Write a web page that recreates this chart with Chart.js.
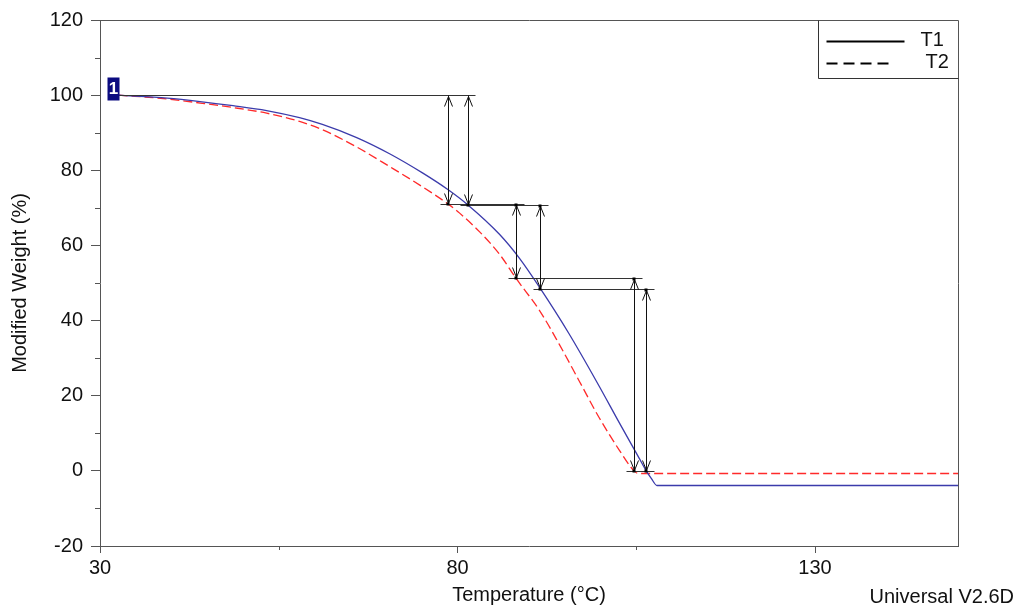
<!DOCTYPE html>
<html>
<head>
<meta charset="utf-8">
<title>Modified Weight vs Temperature</title>
<script src="https://cdn.jsdelivr.net/npm/chart.js@4.4.1/dist/chart.umd.min.js"></script>
<style>
  html, body { margin: 0; padding: 0; background: #ffffff; }
  #wrap { width: 1018px; height: 607px; position: relative; }
</style>
</head>
<body>
<div id="wrap"><canvas id="chart" width="1018" height="607"></canvas></div>
<script>
// Weight curves (temperature in °C, modified weight in %)
const tempT1   = [32.6, 39.4, 44.0, 48.6, 53.3, 57.9, 61.1, 65.9, 70.5, 75.1, 78.7, 81.5, 85.9, 88.7, 91.6, 95.6, 99.8, 102.6, 105.4, 106.4, 107.1, 107.9, 150.0];
const weightT1 = [100.0, 99.2, 98.3, 97.2, 95.9, 94.0, 92.2, 88.7, 84.4, 79.3, 74.8, 70.7, 62.9, 56.5, 48.5, 36.5, 22.6, 12.9, 3.4, 0.0, -2.0, -3.9, -3.9];

const tempT2   = [32.6, 39.4, 44.0, 48.6, 53.3, 57.9, 61.1, 65.9, 70.5, 75.1, 78.7, 80.3, 83.1, 85.9, 88.2, 91.5, 94.2, 97.0, 99.8, 102.6, 104.7, 105.3, 150.0];
const weightT2 = [100.0, 99.0, 97.9, 96.7, 95.2, 93.0, 90.8, 86.2, 81.0, 75.6, 71.0, 68.6, 63.6, 57.6, 51.2, 42.6, 33.8, 24.0, 14.2, 5.6, 0.0, -0.7, -0.7];

// Step analysis: arrow temperatures and the weight levels between them
const stepTempT1  = [81.5, 91.6, 106.4];
const stepLevelT1 = [100, 70.7, 48.5, 0];
const stepTempT2  = [78.7, 88.2, 104.7];
const stepLevelT2 = [100, 71.0, 51.2, 0];

// Axis ticks
const xMajorTicks = [30, 80, 130];
const xMinorTicks = [55, 105];
const yMajorStep = 20;
const seriesLabels = ['T1', 'T2'];
const markerLabel = '1';
const footerText = 'Universal V2.6D';

const FONT = "'Liberation Sans', Arial, sans-serif";
const AXIS_COLOR = '#555555';

function toXY(xs, ys) { return xs.map((x, i) => ({ x: x, y: ys[i] })); }

const stepsPlugin = {
  id: 'steps',
  afterDatasetsDraw(chart) {
    const ctx = chart.ctx;
    const xs = chart.scales.x, ys = chart.scales.y;
    const area = chart.chartArea;
    const px = v => Math.round(xs.getPixelForValue(v)) + 0.5;
    const py = v => Math.round(ys.getPixelForValue(v)) + 0.5;
    ctx.save();

    // plot frame (top and right edges)
    ctx.strokeStyle = AXIS_COLOR;
    ctx.lineWidth = 1;
    ctx.beginPath();
    ctx.moveTo(Math.round(area.left) + 0.5, Math.round(area.top) + 0.5);
    ctx.lineTo(Math.round(area.right) + 0.5, Math.round(area.top) + 0.5);
    ctx.lineTo(Math.round(area.right) + 0.5, Math.round(area.bottom) + 0.5);
    ctx.stroke();

    // minor ticks
    ctx.beginPath();
    xMinorTicks.forEach(v => {
      const x = px(v);
      ctx.moveTo(x, area.bottom);
      ctx.lineTo(x, area.bottom + 4);
    });
    for (let v = ys.min; v <= ys.max; v += 10) {
      if (v % yMajorStep !== 0) {
        const y = py(v);
        ctx.moveTo(area.left - 5, y);
        ctx.lineTo(area.left, y);
      }
    }
    ctx.stroke();

    // horizontal level lines
    ctx.strokeStyle = '#333333';
    ctx.lineWidth = 1;
    const hline = (t0, t1, lvl) => {
      ctx.beginPath();
      ctx.moveTo(px(t0), py(lvl));
      ctx.lineTo(px(t1), py(lvl));
      ctx.stroke();
    };
    hline(tempT1[0], stepTempT1[0] + 1.0, stepLevelT1[0]);
    [[stepTempT1, stepLevelT1], [stepTempT2, stepLevelT2]].forEach(([temps, levels]) => {
      for (let i = 1; i < levels.length; i++) {
        const t0 = temps[i - 1] - 1.1;
        const t1 = (i < temps.length ? temps[i] : temps[i - 1]) + 1.1;
        hline(t0, t1, levels[i]);
      }
    });

    // double-headed arrows
    ctx.strokeStyle = '#111111';
    ctx.fillStyle = '#000000';
    const arrow = (t, top, bot, dotTop) => {
      const x = px(t), y0 = py(top), y1 = py(bot);
      ctx.beginPath();
      ctx.moveTo(x, y0); ctx.lineTo(x, y1);
      ctx.moveTo(x - 4, y0 + 11); ctx.lineTo(x, y0 + 1); ctx.lineTo(x + 4, y0 + 11);
      ctx.moveTo(x - 4, y1 - 11); ctx.lineTo(x, y1 - 1); ctx.lineTo(x + 4, y1 - 11);
      ctx.stroke();
      ctx.fillRect(x - 2, y1 - 2, 3, 3);
      if (dotTop) ctx.fillRect(x - 2, y0 - 1, 3, 3);
    };
    [[stepTempT1, stepLevelT1], [stepTempT2, stepLevelT2]].forEach(([temps, levels]) => {
      temps.forEach((t, i) => arrow(t, levels[i], levels[i + 1], i > 0));
    });

    // run marker at the start of the curves
    const mx = px(tempT1[0]), my = py(weightT1[0]);
    ctx.fillStyle = '#0b0b80';
    ctx.fillRect(mx - 12, my - 18, 12, 23);
    ctx.fillStyle = '#ffffff';
    ctx.font = 'bold 17px ' + FONT;
    ctx.textAlign = 'center';
    ctx.textBaseline = 'middle';
    ctx.fillText(markerLabel, mx - 6, my - 6);

    // legend box
    const lx = Math.round(area.right) - 140 + 0.5, ly = Math.round(area.top) + 0.5;
    ctx.strokeStyle = '#333333';
    ctx.beginPath();
    ctx.moveTo(lx, ly);
    ctx.lineTo(lx, ly + 58);
    ctx.lineTo(Math.round(area.right) + 0.5, ly + 58);
    ctx.stroke();
    ctx.strokeStyle = '#000000';
    ctx.lineWidth = 2;
    ctx.beginPath();
    ctx.moveTo(lx + 8, ly + 21); ctx.lineTo(lx + 86, ly + 21);
    ctx.stroke();
    ctx.setLineDash([11, 6]);
    ctx.beginPath();
    ctx.moveTo(lx + 8, ly + 43); ctx.lineTo(lx + 71, ly + 43);
    ctx.stroke();
    ctx.setLineDash([]);
    ctx.fillStyle = '#111111';
    ctx.font = '20px ' + FONT;
    ctx.textAlign = 'left';
    ctx.textBaseline = 'middle';
    ctx.fillText(seriesLabels[0], lx + 102, ly + 20);
    ctx.fillText(seriesLabels[1], lx + 107, ly + 42);

    // footer
    ctx.textAlign = 'right';
    ctx.textBaseline = 'alphabetic';
    ctx.fillText(footerText, 1014, 603);
    ctx.restore();
  }
};

new Chart(document.getElementById('chart'), {
  type: 'line',
  data: {
    datasets: [
      {
        label: seriesLabels[0],
        data: toXY(tempT1, weightT1),
        borderColor: '#3b3bab',
        borderWidth: 1.3,
        pointRadius: 0,
        cubicInterpolationMode: 'monotone',
        fill: false
      },
      {
        label: seriesLabels[1],
        data: toXY(tempT2, weightT2),
        borderColor: '#ff2a2a',
        borderWidth: 1.3,
        borderDash: [9, 4],
        pointRadius: 0,
        cubicInterpolationMode: 'monotone',
        fill: false
      }
    ]
  },
  options: {
    responsive: false,
    animation: false,
    events: [],
    layout: { padding: { top: 20, right: 60, left: 0, bottom: 0 } },
    plugins: { legend: { display: false }, tooltip: { enabled: false } },
    scales: {
      x: {
        type: 'linear',
        min: 30,
        max: 150,
        afterBuildTicks: s => { s.ticks = xMajorTicks.map(v => ({ value: v })); },
        afterFit: s => { s.height = 61; },
        ticks: { color: '#111111', font: { family: FONT, size: 20 }, padding: 3, maxRotation: 0, autoSkip: false },
        grid: { drawOnChartArea: false, drawTicks: true, tickLength: 7, tickColor: AXIS_COLOR },
        border: { display: true, color: AXIS_COLOR, width: 1 },
        title: { display: true, text: 'Temperature (°C)', color: '#111111', font: { family: FONT, size: 20 }, padding: { top: 0, bottom: 0 } }
      },
      y: {
        type: 'linear',
        min: -20,
        max: 120,
        afterFit: s => { s.width = 100; },
        ticks: {
          stepSize: 10,
          color: '#111111',
          font: { family: FONT, size: 20 },
          padding: 8,
          autoSkip: false,
          callback: v => (v % yMajorStep === 0 ? String(v) : '')
        },
        grid: {
          drawOnChartArea: false,
          drawTicks: true,
          tickLength: 9,
          tickColor: c => (c.tick && c.tick.value % yMajorStep === 0 ? AXIS_COLOR : 'rgba(0,0,0,0)')
        },
        border: { display: true, color: AXIS_COLOR, width: 1 },
        title: { display: true, text: 'Modified Weight (%)', color: '#111111', font: { family: FONT, size: 20 }, padding: { top: 8, bottom: 0 } }
      }
    }
  },
  plugins: [stepsPlugin]
});
</script>
</body>
</html>
